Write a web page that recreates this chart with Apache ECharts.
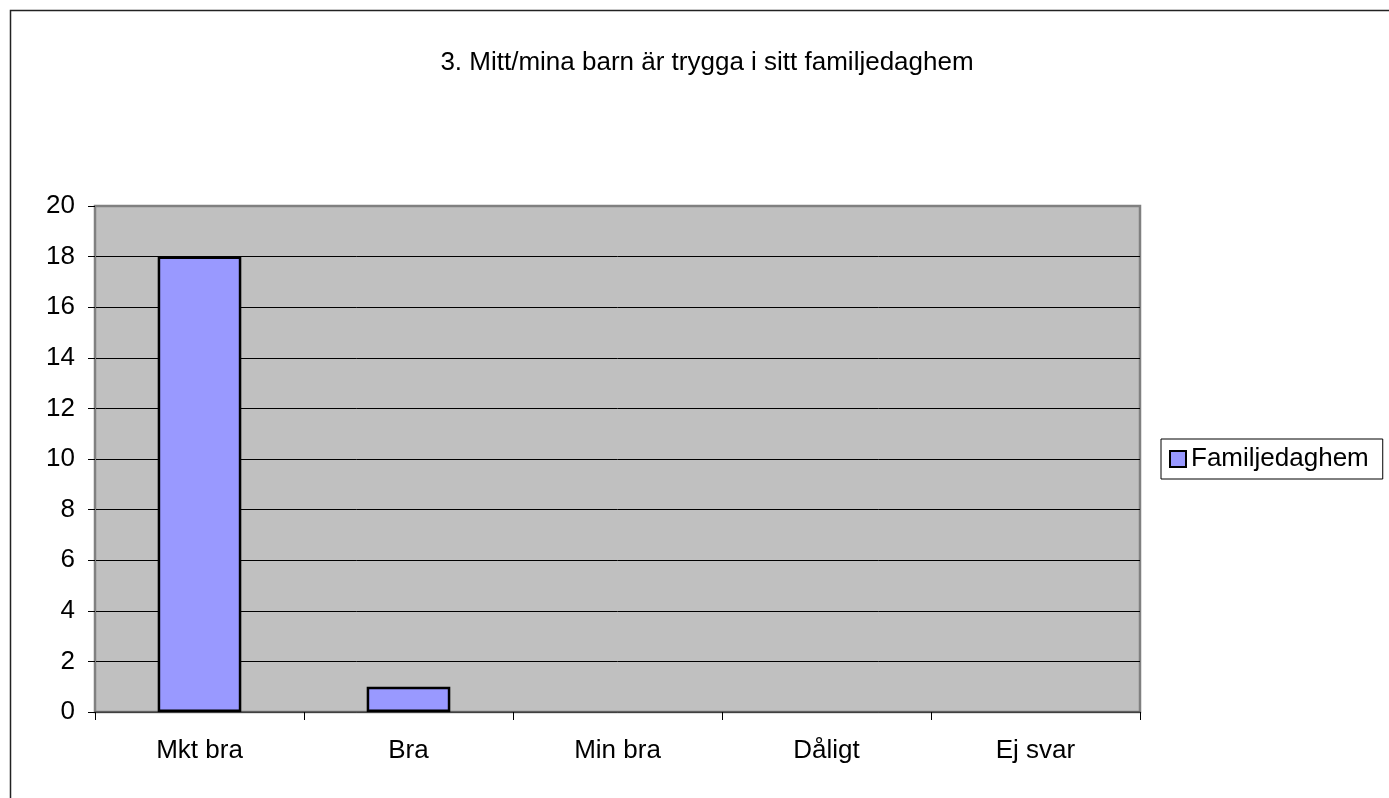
<!DOCTYPE html>
<html>
<head>
<meta charset="utf-8">
<script src="https://cdn.jsdelivr.net/npm/echarts@6/dist/echarts.min.js"></script>
<style>
html,body{margin:0;padding:0;background:#fff;}
#c{width:1389px;height:798px;}
</style>
</head>
<body>
<div id="c"></div>
<script>
const titleText = "3. Mitt/mina barn är trygga i sitt familjedaghem";
const categories = ["Mkt bra", "Bra", "Min bra", "Dåligt", "Ej svar"];
const seriesName = "Familjedaghem";
const values = [18, 1, 0, 0, 0];
const yMin = 0, yMax = 20, yStep = 2;

const chart = echarts.init(document.getElementById('c'), null, {renderer: 'canvas'});
const font = '"Liberation Sans", Arial, sans-serif';
chart.setOption({
  animation: false,
  backgroundColor: '#fff',
  graphic: [{
    type: 'rect', silent: true, z: -10,
    shape: {x: 10.5, y: 10.5, width: 1400, height: 820},
    style: {fill: 'none', stroke: '#222', lineWidth: 1.5}
  }],
  title: {
    text: titleText,
    left: 702, top: 45, textAlign: 'center',
    textStyle: {fontFamily: font, fontSize: 26, fontWeight: 'normal', color: '#000'}
  },
  legend: {
    data: [seriesName],
    left: 1161, top: 439,
    orient: 'vertical',
    icon: 'rect', itemWidth: 16, itemHeight: 16, itemGap: 0,
    padding: [7, 14, 7, 8],
    borderColor: '#000', borderWidth: 1,
    textStyle: {fontFamily: font, fontSize: 26, color: '#000', padding: [0, 0, 0, 0]},
    itemStyle: {borderColor: '#000', borderWidth: 2}
  },
  grid: {
    left: 95, top: 206, right: 249, bottom: 86,
    show: true, backgroundColor: '#C0C0C0', borderColor: '#808080', borderWidth: 2.5
  },
  xAxis: {
    type: 'category', data: categories,
    axisLine: {lineStyle: {color: '#555', width: 1.5}},
    axisTick: {show: true, alignWithLabel: false, length: 8, lineStyle: {color: '#000'}},
    axisLabel: {fontFamily: font, fontSize: 26, color: '#000', margin: 26},
    splitLine: {show: false}
  },
  yAxis: {
    type: 'value', min: yMin, max: yMax, interval: yStep,
    axisLine: {show: true, lineStyle: {color: '#808080', width: 2}},
    axisTick: {show: true, length: 7, lineStyle: {color: '#000'}},
    axisLabel: {fontFamily: font, fontSize: 26, color: '#000', margin: 20},
    splitLine: {show: true, showMaxLine: false, lineStyle: {color: '#000', width: 1}}
  },
  series: [{
    name: seriesName, type: 'bar',
    data: values.map(v => v === 0 ? {value: v, itemStyle: {borderWidth: 0}} : v),
    barWidth: '40%',
    itemStyle: {color: '#9999FF', borderColor: '#000', borderWidth: 2.5}
  }]
});
</script>
</body>
</html>
